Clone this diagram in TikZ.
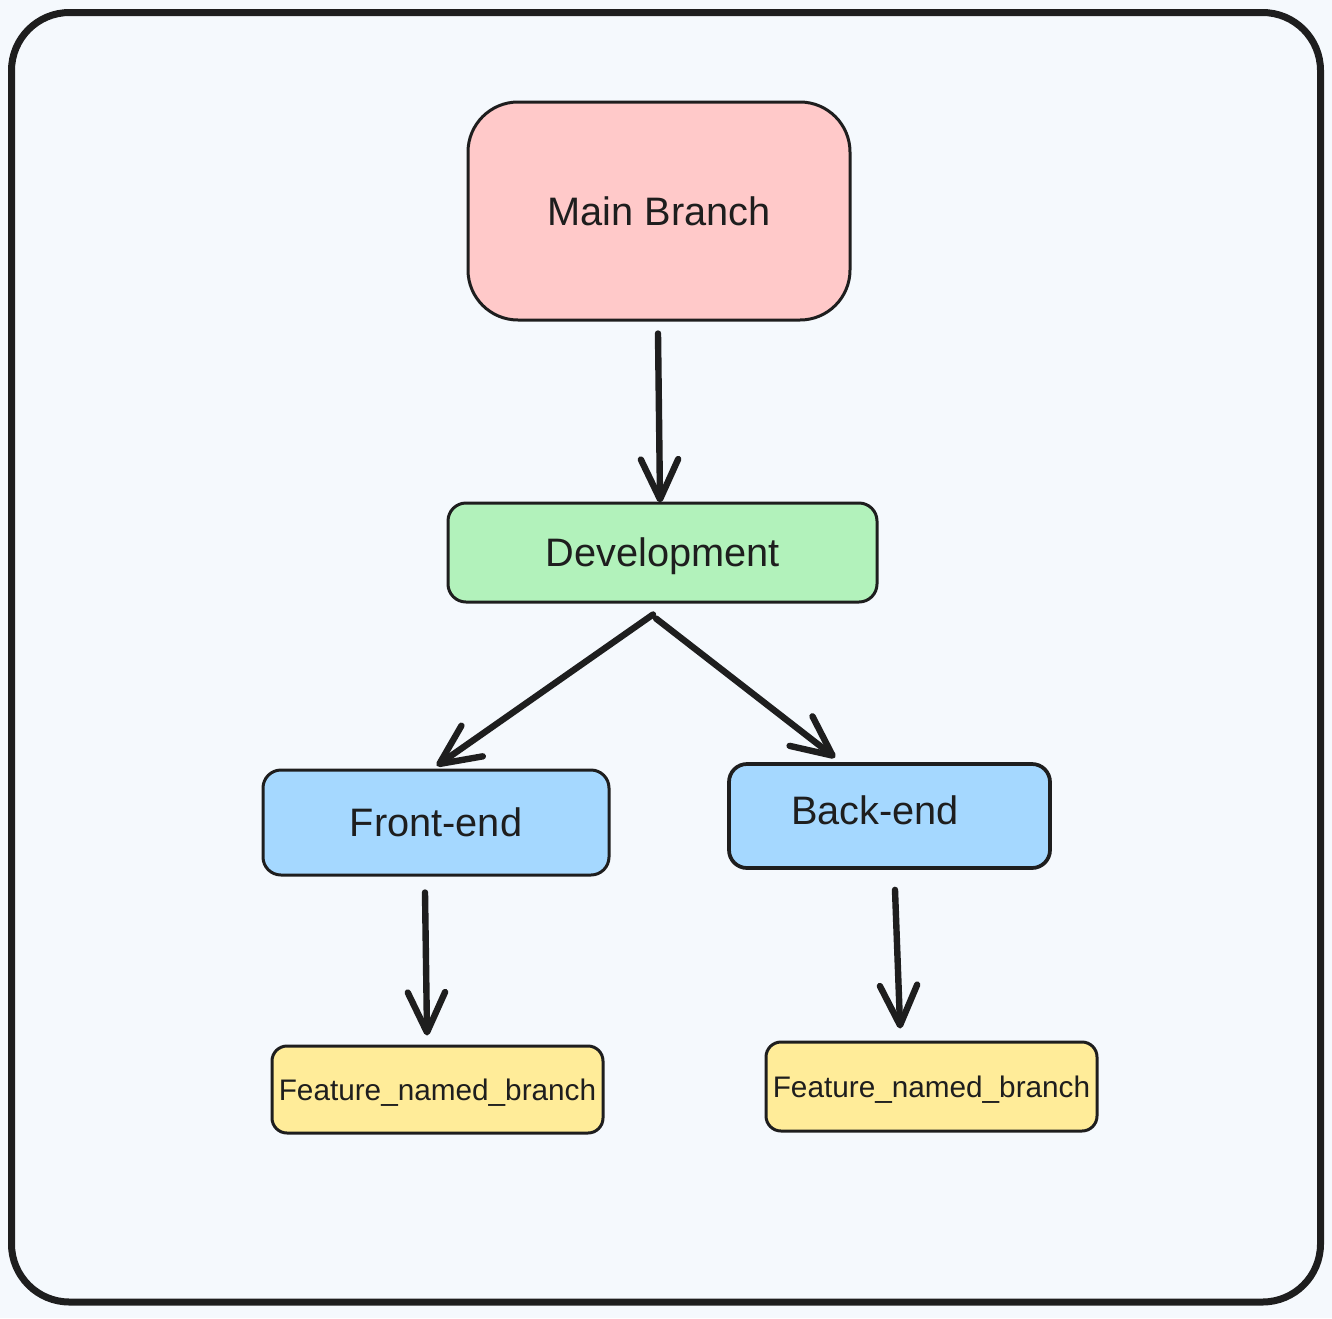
\documentclass[tikz,border=0pt]{standalone}
\usepackage{fontspec}
\setmainfont{Liberation Sans}
\usetikzlibrary{arrows.meta,calc}
\definecolor{bg}{HTML}{F5F9FD}
\definecolor{ink}{HTML}{1E1E1E}
\definecolor{cred}{HTML}{FFC9C9}
\definecolor{cgreen}{HTML}{B2F2BB}
\definecolor{cblue}{HTML}{A5D8FF}
\definecolor{cyellow}{HTML}{FFEC99}
\tikzset{
  box/.style={draw=ink, line width=2.25pt, text=ink, inner sep=0pt,
    font=\fontsize{29.8}{34}\selectfont, text height=21.3pt, text depth=0pt},
  smallbox/.style={box, font=\fontsize{22.3}{26}\selectfont, text height=16pt},
  conn/.style={draw=ink, line width=4.8pt, line cap=round, line join=round,
    -{Straight Barb[length=30pt 0 0, width=28pt 0 0, round]}, shorten >=-3pt},
}
\begin{document}
\begin{tikzpicture}[x=0.75pt, y=-0.75pt]
\useasboundingbox (0,0) rectangle (1332,1318);
\fill[bg] (0,0) rectangle (1332,1318);
\draw[ink, line width=5.25pt, rounded corners=43.5pt] (11.5,12.5) rectangle (1320.5,1302);

\node[box, fill=cred, rounded corners=37.5pt, minimum width=286.5pt, minimum height=163.5pt]
  (main) at (659,211) {Main Branch};
\node[box, fill=cgreen, rounded corners=13.5pt, minimum width=321.75pt, minimum height=74.25pt]
  (dev) at (662.5,552.5) {Development};
\node[box, fill=cblue, rounded corners=13.5pt, minimum width=259.5pt, minimum height=78.75pt]
  (front) at (436,822.5) {Front-end};
\node[box, fill=cblue, rounded corners=13.5pt, minimum width=240.75pt, minimum height=78pt,
  line width=2.8pt,
  label={[text=ink, font=\fontsize{29.8}{34}\selectfont, inner sep=0pt, text height=21.3pt, text depth=0pt,
          xshift=-10.9pt, yshift=4.5pt]center:Back-end}]
  (back) at (889.5,816) {};
\node[smallbox, fill=cyellow, rounded corners=11.25pt, minimum width=248.25pt, minimum height=65.25pt]
  (featL) at (437.5,1089.5) {Feature\_named\_branch};
\node[smallbox, fill=cyellow, rounded corners=11.25pt, minimum width=248.25pt, minimum height=66.75pt]
  (featR) at (931.5,1086.5) {Feature\_named\_branch};

\draw[conn] ($(main.south)+(-1,12)$) -- ($(dev.north)+(-2.5,-3)$);
\draw[conn] ($(dev.south)+(-9.5,11)$) -- ($(front.north)+(4,-5)$);
\draw[conn] ($(dev.south)+(-6.5,15)$) -- ($(back.north)+(-57.5,-7)$);
\draw[conn] ($(front.south)+(-11,16)$) -- ($(featL.north)+(-10.5,-13)$);
\draw[conn] ($(back.south)+(5.5,20)$) -- ($(featR.north)+(-31.5,-16)$);
\end{tikzpicture}
\end{document}
